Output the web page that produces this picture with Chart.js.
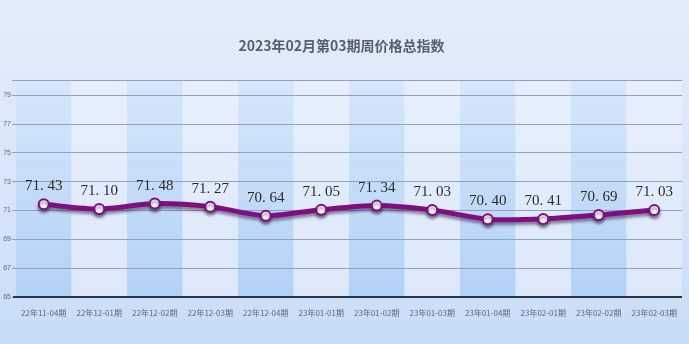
<!DOCTYPE html>
<html>
<head>
<meta charset="utf-8">
<script src="https://cdn.jsdelivr.net/npm/chart.js@4"></script>
<style>
  html, body { margin: 0; padding: 0; }
  body { width: 689px; height: 344px; background: linear-gradient(#e3edfa, #d6e5f9 60%, #c8dcf8); }
  #wrap { width: 689px; height: 344px; }
</style>
</head>
<body>
<div id="wrap"><canvas id="price"></canvas></div>
<script>
const periods = ['22年11-04期', '22年12-01期', '22年12-02期', '22年12-03期', '22年12-04期', '23年01-01期',
  '23年01-02期', '23年01-03期', '23年01-04期', '23年02-01期', '23年02-02期', '23年02-03期'];
const indexValues = [71.43, 71.10, 71.48, 71.27, 70.64, 71.05, 71.34, 71.03, 70.40, 70.41, 70.69, 71.03];
const yTicks = [65, 67, 69, 71, 73, 75, 77, 79, 80];
const titleText = '2023年02月第03期周价格总指数';

// alternating column shading behind the grid
const bandPlugin = {
  id: 'bands',
  beforeDraw(chart) {
    const { ctx, chartArea, scales } = chart;
    const x = scales.x;
    const step = x.getPixelForValue(1) - x.getPixelForValue(0);
    for (let i = 0; i < periods.length; i++) {
      const left = x.getPixelForValue(i) - step / 2;
      const g = ctx.createLinearGradient(0, chartArea.top, 0, chartArea.bottom);
      if (i % 2 === 0) {
        g.addColorStop(0, 'rgba(214,230,250,0.9)');
        g.addColorStop(1, 'rgba(176,208,246,0.95)');
      } else {
        g.addColorStop(0, 'rgba(232,240,252,0.9)');
        g.addColorStop(1, 'rgba(220,232,250,0.95)');
      }
      ctx.fillStyle = g;
      ctx.fillRect(left, chartArea.top, step, chartArea.bottom - chartArea.top);
    }
  }
};

// shadow under the line
const shadowPlugin = {
  id: 'lineShadow',
  beforeDatasetDraw(chart) {
    const ctx = chart.ctx;
    ctx.save();
    ctx.shadowColor = 'rgba(40,20,60,0.5)';
    ctx.shadowBlur = 3;
    ctx.shadowOffsetY = 3;
  },
  afterDatasetDraw(chart) {
    chart.ctx.restore();
  }
};

// value labels over points
const valuePlugin = {
  id: 'values',
  afterDatasetsDraw(chart) {
    const ctx = chart.ctx;
    const meta = chart.getDatasetMeta(0);
    ctx.save();
    ctx.font = '15px "Liberation Serif", "DejaVu Serif", serif';
    ctx.fillStyle = '#2b2b2b';
    ctx.textAlign = 'center';
    ctx.textBaseline = 'middle';
    meta.data.forEach((pt, i) => {
      const [a, b] = indexValues[i].toFixed(2).split('.');
      ctx.fillText(a + '. ' + b, pt.x, pt.y - 18);
    });
    ctx.restore();
  }
};

// dark base line on x axis
const baseLinePlugin = {
  id: 'baseLine',
  afterDraw(chart) {
    const { ctx, chartArea } = chart;
    ctx.save();
    ctx.strokeStyle = '#2f3540';
    ctx.lineWidth = 2;
    ctx.beginPath();
    ctx.moveTo(chartArea.left - 3, chartArea.bottom);
    ctx.lineTo(chartArea.right, chartArea.bottom);
    ctx.stroke();
    ctx.restore();
  }
};

new Chart(document.getElementById('price'), {
  type: 'line',
  data: {
    labels: periods,
    datasets: [{
      data: indexValues,
      borderColor: '#7f0f80',
      borderWidth: 5,
      pointRadius: 5,
      pointBorderWidth: 2,
      pointBackgroundColor: '#ffffff',
      pointBorderColor: '#7f0f80',
      tension: 0.25,
      fill: false
    }]
  },
  plugins: [bandPlugin, shadowPlugin, valuePlugin, baseLinePlugin],
  options: {
    responsive: true,
    maintainAspectRatio: false,
    animation: false,
    layout: { padding: { top: 0, right: 6, left: 0, bottom: 0 } },
    plugins: {
      legend: { display: false },
      tooltip: { enabled: false },
      title: {
        display: true,
        text: titleText,
        color: '#5a5f66',
        font: { family: '"Noto Sans CJK SC", sans-serif', size: 14, weight: 'bold' },
        padding: { top: 37, bottom: 27 }
      }
    },
    scales: {
      x: {
        offset: true,
        grid: { display: false },
        border: { display: false },
        ticks: {
          color: '#5f6670',
          font: { family: '"Noto Sans CJK SC", sans-serif', size: 8 },
          maxRotation: 0,
          autoSkip: false,
          padding: 3
        },
        afterFit(scale) { scale.height = 47; }
      },
      y: {
        min: 65,
        max: 80,
        afterBuildTicks(scale) { scale.ticks = yTicks.map(v => ({ value: v })); },
        grid: { color: '#8fa2b8', lineWidth: 1, tickLength: 4 },
        border: { display: false },
        ticks: {
          color: '#5f6670',
          font: { family: 'Liberation Sans, sans-serif', size: 7 },
          padding: 1,
          callback: (v) => (v === 80 ? '' : v)
        },
        afterFit(scale) { scale.width = 16; }
      }
    }
  }
});
</script>
</body>
</html>
